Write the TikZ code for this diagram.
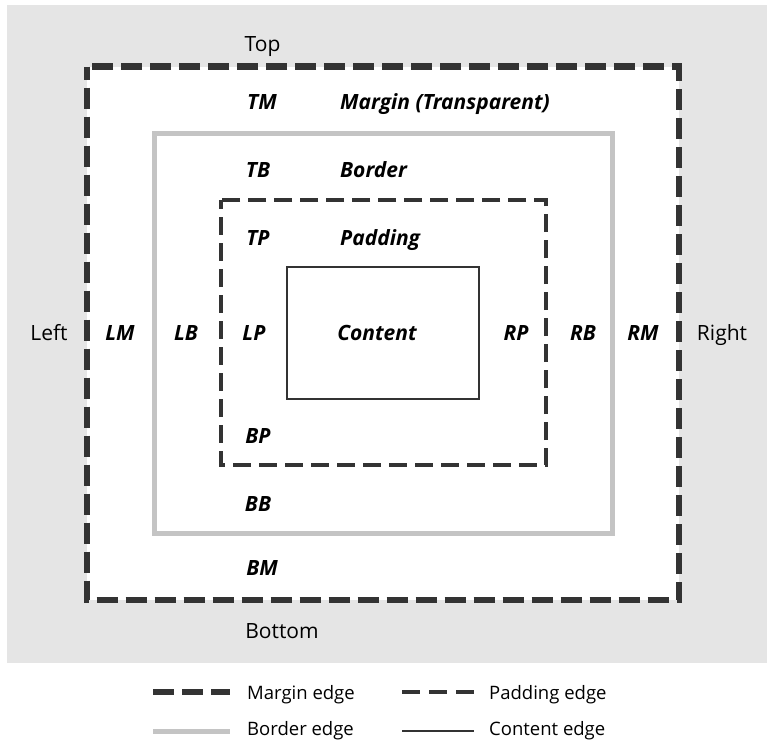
\documentclass[tikz,border=0pt]{standalone}
\usepackage{fontspec}
\setmainfont{Open Sans}
\definecolor{bggray}{HTML}{E5E5E5}
\definecolor{darkline}{HTML}{333333}
\definecolor{bordergray}{HTML}{C4C4C4}
\begin{document}
\begin{tikzpicture}[x=1pt,y=-1pt,
  marginedge/.style={draw=darkline,line width=6.5pt,dash pattern=on 21pt off 8pt,dash phase=8pt},
  paddingedge/.style={draw=darkline,line width=3.5pt,dash pattern=on 18pt off 8pt,dash phase=9pt},
  borderedge/.style={draw=bordergray,line width=5pt},
  contentedge/.style={draw=darkline,line width=2pt},
  lbl/.style={font=\fontsize{21}{25}\selectfont\bfseries\itshape,anchor=base,inner sep=0pt},
  plain/.style={font=\fontsize{21}{25}\selectfont,anchor=base,inner sep=0pt},
  leg/.style={font=\fontsize{18.5}{22}\selectfont,anchor=base west,inner sep=0pt}]
\useasboundingbox (0,0) rectangle (767,740);
\fill[bggray] (7,5) rectangle (767,663);
% boxes
\fill[white] (87,66.5) rectangle (679,600);
\draw[marginedge] (87,66.5) rectangle (679,600);
\draw[borderedge] (154.5,133.5) rectangle (612,533);
\draw[paddingedge] (221,200) rectangle (546,465);
\draw[contentedge] (287,267) rectangle (479,399);
% labels
\node[plain] (top) at (262.5,51) {Top};
\node[lbl] (tm) at (262,109) {TM};
\node[lbl,anchor=base west] (mt) at (340,109) {Margin (Transparent)};
\node[lbl] (tb) at (258,177) {TB};
\node[lbl,anchor=base west] (bt) at (340,177) {Border};
\node[lbl] (tp) at (258,245) {TP};
\node[lbl,anchor=base west] (pt) at (340,245) {Padding};
\node[plain] (left) at (49,340) {Left};
\node[lbl] (lm) at (120,340) {LM};
\node[lbl] (lb) at (186,340) {LB};
\node[lbl] (lp) at (254,340) {LP};
\node[lbl] (ct) at (377,340) {Content};
\node[lbl] (rp) at (516,340) {RP};
\node[lbl] (rb) at (583,340) {RB};
\node[lbl] (rm) at (643,340) {RM};
\node[plain] (right) at (722,340) {Right};
\node[lbl] (bp) at (258,443) {BP};
\node[lbl] (bb) at (258,511) {BB};
\node[lbl] (bm) at (262,575) {BM};
\node[plain] (bottom) at (282,638) {Bottom};
% legend
\coordinate (m1) at (153,692); \coordinate (m2) at (230,692);
\coordinate (p1) at (402,692); \coordinate (p2) at (474,692);
\coordinate (b1) at (153,731); \coordinate (b2) at (230,731);
\coordinate (c1) at (402,731); \coordinate (c2) at (474,731);
\draw[marginedge,dash phase=0pt] (m1) -- (m2);
\draw[paddingedge,dash pattern=on 18pt off 9pt,dash phase=0pt] (p1) -- (p2);
\draw[borderedge] (b1) -- (b2);
\draw[contentedge] (c1) -- (c2);
\node[leg] (lm1) at (247,699) {Margin edge};
\node[leg] (lp1) at (489,699) {Padding edge};
\node[leg] (lb1) at (247,735) {Border edge};
\node[leg] (lc1) at (489,735) {Content edge};
\end{tikzpicture}
\end{document}
